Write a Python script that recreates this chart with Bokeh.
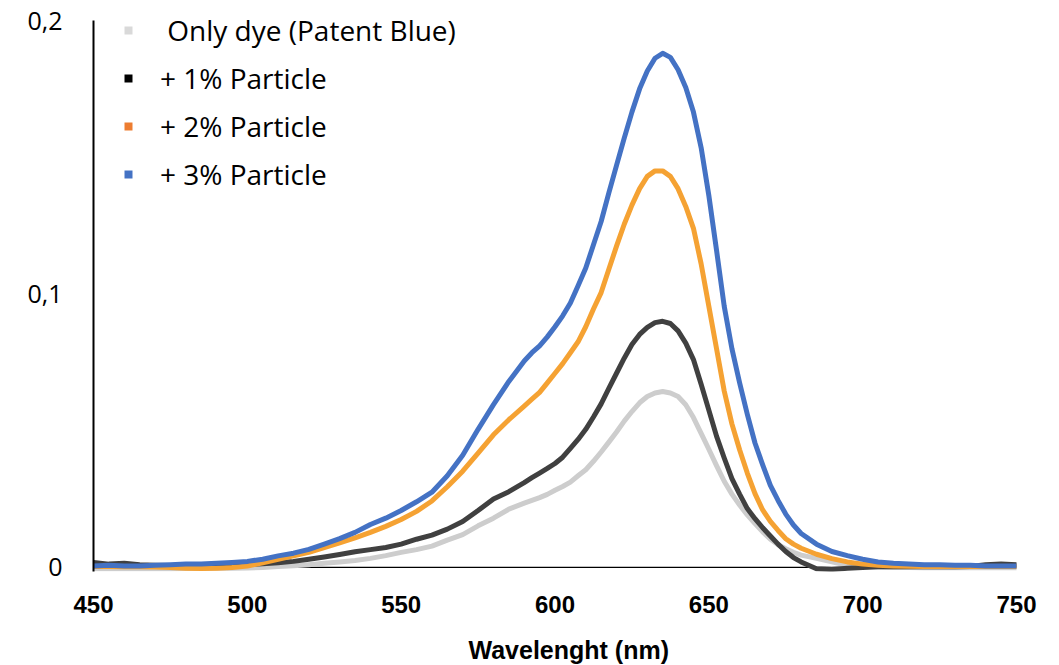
from bokeh.plotting import figure
from bokeh.models import FixedTicker, CustomJSTickFormatter, Span, Title, Legend, LegendItem, ColumnDataSource
from bokeh.embed import file_html
from bokeh.resources import INLINE

wavelength = [450, 455, 460, 465, 470, 475, 480, 485, 490, 495,
              500, 505, 510, 515, 520, 525, 530, 535, 540, 545,
              550, 555, 560, 565, 570, 575, 580, 585,
              590, 592.5, 595, 597.5, 600, 602.5, 605, 607.5, 610, 612.5,
              615, 617.5, 620, 622.5, 625, 627.5, 630, 632.5, 635, 637.5,
              640, 642.5, 645, 647.5, 650, 652.5, 655, 657.5, 660, 662.5,
              665, 667.5, 670, 672.5, 675, 677.5, 680,
              685, 690, 695, 700, 705, 710, 715, 720, 725, 730, 735, 740, 745, 750]

only_dye = [-0.0005, -0.0005, -0.0005, -0.0005, -0.0005, -0.0005, -0.0004, -0.0004, -0.0003, -0.0003,
            -0.0002, 0.0000, 0.0003, 0.0006, 0.0010, 0.0015, 0.0020, 0.0025, 0.0033, 0.0043,
            0.0055, 0.0065, 0.0078, 0.0100, 0.0120, 0.0152, 0.0180, 0.0213,
            0.0235, 0.0245, 0.0255, 0.0267, 0.0282, 0.0296, 0.0312, 0.0335, 0.0357, 0.0388,
            0.0422, 0.0458, 0.0495, 0.0535, 0.0570, 0.0602, 0.0625, 0.0638, 0.0643, 0.0638,
            0.0625, 0.0595, 0.0548, 0.0490, 0.0432, 0.0372, 0.0315, 0.0268, 0.0228, 0.0192,
            0.0160, 0.0130, 0.0103, 0.0083, 0.0068, 0.0055, 0.0045,
            0.0033, 0.0020, 0.0008, 0.0003, 0.0001, 0.0000, 0.0000, -0.0001, -0.0001, -0.0001, -0.0001, -0.0001, -0.0001, -0.0001]

particle_1 = [0.0018, 0.0012, 0.0015, 0.0010, 0.0008, 0.0007, 0.0006, 0.0006, 0.0007, 0.0008,
              0.0010, 0.0013, 0.0017, 0.0022, 0.0030, 0.0038, 0.0047, 0.0057, 0.0065, 0.0073,
              0.0085, 0.0103, 0.0118, 0.0140, 0.0168, 0.0208, 0.0250, 0.0277,
              0.0310, 0.0328, 0.0345, 0.0362, 0.0380, 0.0403, 0.0435, 0.0468, 0.0505, 0.0550,
              0.0598, 0.0655, 0.0710, 0.0765, 0.0815, 0.0852, 0.0878, 0.0895, 0.0900, 0.0892,
              0.0865, 0.0820, 0.0760, 0.0670, 0.0575, 0.0480, 0.0400, 0.0325, 0.0268, 0.0215,
              0.0178, 0.0145, 0.0115, 0.0085, 0.0058, 0.0036, 0.0020,
              -0.0005, -0.0008, -0.0003, 0.0000, 0.0002, 0.0002, 0.0002, 0.0002, 0.0002, 0.0002, 0.0003, 0.0010, 0.0012, 0.0010]

particle_2 = [0.0003, 0.0003, 0.0002, 0.0002, 0.0001, 0.0000, -0.0003, -0.0004, -0.0003, 0.0000,
              0.0005, 0.0017, 0.0030, 0.0042, 0.0055, 0.0072, 0.0090, 0.0108, 0.0128, 0.0150,
              0.0175, 0.0205, 0.0243, 0.0295, 0.0352, 0.0418, 0.0485, 0.0540,
              0.0590, 0.0615, 0.0640, 0.0675, 0.0710, 0.0745, 0.0785, 0.0825, 0.0880, 0.0945,
              0.1005, 0.1090, 0.1175, 0.1255, 0.1325, 0.1385, 0.1430, 0.1450, 0.1450, 0.1430,
              0.1385, 0.1320, 0.1240, 0.1110, 0.0955, 0.0800, 0.0645, 0.0525, 0.0430, 0.0345,
              0.0270, 0.0210, 0.0168, 0.0135, 0.0105, 0.0085, 0.0070,
              0.0048, 0.0032, 0.0020, 0.0012, 0.0008, 0.0005, 0.0004, 0.0003, 0.0003, 0.0003, 0.0003, 0.0003, 0.0003, 0.0003]

particle_3 = [0.0005, 0.0008, 0.0005, 0.0005, 0.0008, 0.0010, 0.0012, 0.0012, 0.0015, 0.0018,
              0.0022, 0.0030, 0.0042, 0.0052, 0.0066, 0.0085, 0.0105, 0.0128, 0.0157, 0.0180,
              0.0208, 0.0240, 0.0275, 0.0335, 0.0410, 0.0505, 0.0595, 0.0680,
              0.0755, 0.0785, 0.0810, 0.0843, 0.0880, 0.0920, 0.0967, 0.1030, 0.1095, 0.1180,
              0.1265, 0.1370, 0.1470, 0.1570, 0.1665, 0.1750, 0.1815, 0.1862, 0.1880, 0.1865,
              0.1820, 0.1755, 0.1665, 0.1535, 0.1360, 0.1160, 0.0955, 0.0800, 0.0675, 0.0560,
              0.0455, 0.0375, 0.0300, 0.0245, 0.0195, 0.0155, 0.0124,
              0.0085, 0.0058, 0.0043, 0.0030, 0.0020, 0.0015, 0.0012, 0.0010, 0.0010, 0.0008, 0.0008, 0.0005, 0.0005, 0.0005]

series_labels = [" Only dye (Patent Blue)", "+ 1% Particle", "+ 2% Particle", "+ 3% Particle"]
line_colors = ["#CDCDCD", "#404040", "#F5A233", "#4472C4"]
marker_colors = ["#D9D9D9", "#000000", "#ED7D31", "#4472C4"]
x_ticks = [450, 500, 550, 600, 650, 700, 750]
y_ticks = [0, 0.1, 0.2]
x_title = "Wavelenght (nm)"

p = figure(width=1051, height=665, output_backend="svg", toolbar_location=None,
           x_range=(450, 750), y_range=(-0.0015, 0.2),
           min_border_left=93, min_border_right=35, min_border_top=20, min_border_bottom=93)
p.outline_line_color = None
p.xgrid.visible = False
p.ygrid.visible = False

src = ColumnDataSource(dict(x=wavelength, d0=only_dye, d1=particle_1, d2=particle_2, d3=particle_3))
for key, col in zip(["d0", "d1", "d2", "d3"], line_colors):
    p.line("x", key, source=src, line_color=col, line_width=5, line_join="round", line_cap="round")

items = []
for key, lab, col in zip(["d0", "d1", "d2", "d3"], series_labels, marker_colors):
    r = p.scatter("x", key, source=src, marker="square", size=0, fill_color=col, line_color=None)
    items.append(LegendItem(label=lab, renderers=[r]))

legend = Legend(items=items, location=(25, 378), orientation="vertical",
                glyph_width=20, glyph_height=38, label_standoff=22, spacing=10,
                padding=0, margin=0, border_line_alpha=0, background_fill_alpha=0,
                label_text_font="Open Sans", label_text_font_size="28px", label_text_color="#000000")
p.add_layout(legend, "center")

# x axis
p.xaxis.ticker = FixedTicker(ticks=x_ticks)
p.xaxis.axis_line_alpha = 0
p.xaxis.major_tick_line_color = None
p.xaxis.minor_tick_line_color = None
p.xaxis.major_label_standoff = 18
p.xaxis.major_label_text_font = "Liberation Sans"
p.xaxis.major_label_text_font_style = "bold"
p.xaxis.major_label_text_font_size = "24px"
p.xaxis.major_label_text_color = "#000000"
# small spacer between the tick labels and the title
p.xaxis.axis_label = " "
p.xaxis.axis_label_text_font_size = "1px"
p.xaxis.axis_label_standoff = 16

p.add_layout(Span(location=0, dimension="width", line_color="#000000", line_width=1.3, level="underlay"))

# y axis
p.yaxis.ticker = FixedTicker(ticks=y_ticks)
p.yaxis.formatter = CustomJSTickFormatter(code="return tick == 0 ? '0' : tick.toFixed(1).replace('.', ',');")
p.yaxis.axis_line_color = "#000000"
p.yaxis.axis_line_width = 2
p.yaxis.major_tick_line_color = None
p.yaxis.minor_tick_line_color = None
p.yaxis.major_label_standoff = 25
p.yaxis.major_label_text_font = "Open Sans"
p.yaxis.major_label_text_font_size = "25px"
p.yaxis.major_label_text_color = "#000000"

p.add_layout(Title(text=x_title, align="left", offset=375, standoff=0, vertical_align="top",
                   text_font="Liberation Sans", text_font_style="bold", text_font_size="25px",
                   text_color="#000000"), "below")

open("out.html", "w").write(file_html(p, INLINE))
